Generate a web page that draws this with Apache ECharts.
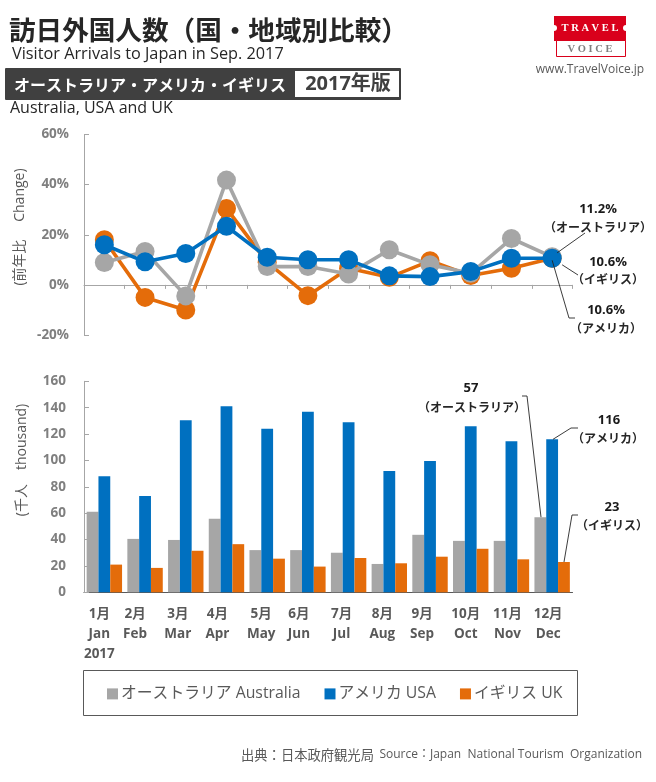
<!DOCTYPE html>
<html><head><meta charset="utf-8">
<script src="https://cdn.jsdelivr.net/npm/echarts@6/dist/echarts.min.js"></script>
<style>html,body{margin:0;padding:0;background:#fff}#c{width:656px;height:782px}</style>
</head><body><div id="c"></div>
<script>
const months = ['1月\nJan\n2017','2月\nFeb','3月\nMar','4月\nApr','5月\nMay','6月\nJun','7月\nJul','8月\nAug','9月\nSep','10月\nOct','11月\nNov','12月\nDec'];
const nameAU = 'オーストラリア Australia';
const nameUS = 'アメリカ USA';
const nameUK = 'イギリス UK';
const changeAU = [8.9,13.3,-4.4,41.8,7.3,7.3,4.3,14,8,4.6,18.5,11.2];
const changeUS = [16,9.2,12.5,23.4,11,10,10,3.6,3.3,5.3,10.6,10.6];
const changeUK = [18,-5,-10,30.5,9,-4.3,6.6,3,9.6,3.7,6.6,10.6];
const visitorsAU = [61,40.5,39.7,55.8,32,32,30,21.5,43.6,39,39,57];
const visitorsUS = [88,73,130.5,141,124,137,129,92,99.6,126,114.5,116];
const visitorsUK = [21,18.5,31.5,36.5,25.5,19.5,26,22,27,33,25,23];

const GRAY='#a6a6a6', BLUE='#0070c0', ORANGE='#e46c0a';
const LATIN="'Open Sans','Noto Sans CJK JP'";
const JP="'Noto Sans CJK JP'";
const tickNudge=[5,10,8,9,6,9,7,7,8,5,4,4];

const chart=echarts.init(document.getElementById('c'),null,{renderer:'canvas'});
const yLabel=(fmt,m)=>({fontFamily:LATIN,fontWeight:'bold',fontSize:13.5,color:'#7f7f7f',margin:m,formatter:fmt,padding:[4,0,0,0]});
const yCommon={axisLine:{show:true,lineStyle:{color:'#a6a6a6',width:1}},axisTick:{show:true,inside:true,length:5,lineStyle:{color:'#a6a6a6'}},splitLine:{show:false}};
const lineS=(name,data,color,z)=>({name,type:'line',xAxisIndex:0,yAxisIndex:0,data,z,symbol:'circle',symbolSize:19,
  lineStyle:{color,width:3.6},itemStyle:{color},animation:false});
const barS=(name,data,color)=>({name,type:'bar',xAxisIndex:1,yAxisIndex:1,data,itemStyle:{color},barGap:0,barCategoryGap:'13%',animation:false});

chart.setOption({
  animation:false,
  grid:[{left:84,top:134.5,width:488.5,height:200.5},{left:84,top:381.3,width:488.5,height:211}],
  legend:{data:[nameAU,nameUS,nameUK],left:107,top:686,itemWidth:11,itemHeight:11,itemGap:24,icon:'rect',
    padding:0,textStyle:{fontFamily:LATIN,fontSize:15.8,color:'#595959',padding:[0,0,0,-2]},selectedMode:false},
  xAxis:[
    {type:'category',gridIndex:0,data:months,axisLabel:{show:false},
      axisLine:{onZero:true,lineStyle:{color:'#a6a6a6',width:1}},axisTick:{show:true,length:4,alignWithLabel:false,lineStyle:{color:'#a6a6a6'}}},
    {type:'category',gridIndex:1,
      data:months.map((m,i)=>({value:m,textStyle:{padding:[0,2*tickNudge[i],0,0]}})),
      axisLine:{lineStyle:{color:'#595959',width:1.2}},axisTick:{show:false},
      axisLabel:{interval:0,margin:12,fontFamily:LATIN,fontWeight:'bold',fontSize:13.5,lineHeight:20,color:'#595959',verticalAlign:'top'}}
  ],
  yAxis:[
    Object.assign({type:'value',gridIndex:0,min:-20,max:60,interval:20,axisLabel:yLabel('{value}%',15)},yCommon),
    Object.assign({type:'value',gridIndex:1,min:0,max:160,interval:20,axisLabel:yLabel('{value}',18)},yCommon)
  ],
  series:[
    lineS(nameUK,changeUK,ORANGE,2),lineS(nameAU,changeAU,GRAY,3),lineS(nameUS,changeUS,BLUE,4),
    barS(nameAU,visitorsAU,GRAY),barS(nameUS,visitorsUS,BLUE),barS(nameUK,visitorsUK,ORANGE)
  ]
});

const last=11;
const pLine=(v)=>chart.convertToPixel({xAxisIndex:0,yAxisIndex:0},[last,v]);
const pBarY=(v)=>chart.convertToPixel({yAxisIndex:1},v);

const txt=(text,x,y,o)=>({type:'text',silent:true,x,y,rotation:(o&&o.rot)||0,z:100,style:Object.assign({text,fill:'#262626',font:`bold 12px ${JP}`,align:'center',verticalAlign:'middle'},o&&o.s)});
const note=(text,x,y)=>txt(text,x,y,{s:{font:`bold 13px ${LATIN}`,fill:'#1a1a1a'}});
const poly=(points,w)=>({type:'polyline',silent:true,z:100,shape:{points},style:{stroke:'#262626',lineWidth:w||0.9,fill:null}});

const aL=pLine(changeAU[last]), uL=pLine(changeUS[last]);
const yA=pBarY(visitorsAU[last]), yU=pBarY(visitorsUS[last]), yK=pBarY(visitorsUK[last]);

const graphic=[
  txt('訪日外国人数（国・地域別比較）',9,30,{s:{font:`bold 26.6px ${JP}`,align:'left',fill:'#262626'}}),
  txt('Visitor Arrivals to Japan in Sep. 2017',12,54,{s:{font:`16.3px 'Open Sans'`,align:'left',fill:'#262626'}}),
  {type:'rect',silent:true,shape:{x:5,y:68,width:396,height:32,r:1},style:{fill:'#404040'}},
  {type:'rect',silent:true,shape:{x:295,y:71,width:104,height:26},style:{fill:'#fff'}},
  txt('オーストラリア・アメリカ・イギリス',14,85,{s:{font:`bold 16px ${JP}`,align:'left',fill:'#fff'}}),
  txt('2017年版',348,84,{s:{font:`bold 20px ${LATIN}`,fill:'#404040'}}),
  txt('Australia, USA and UK',10,108,{s:{font:`16px 'Open Sans'`,align:'left',fill:'#262626'}}),

  {type:'rect',silent:true,shape:{x:554,y:16,width:72,height:25},style:{fill:'#d9001b'}},
  {type:'circle',silent:true,shape:{cx:554,cy:28,r:3},style:{fill:'#fff'}},
  {type:'circle',silent:true,shape:{cx:626,cy:28,r:3},style:{fill:'#fff'}},
  {type:'rect',silent:true,shape:{x:556.5,y:40.5,width:69,height:16},style:{fill:'#fff',stroke:'#d9001b',lineWidth:1}},
  txt('T R A V E L',590,28.5,{s:{font:"bold 10.5px 'Liberation Serif'",fill:'#fff'}}),
  txt('V O I C E',590,49,{s:{font:"bold 10.5px 'Liberation Serif'",fill:'#7f7f7f'}}),
  txt('www.TravelVoice.jp',590,70,{s:{font:"12px 'Open Sans'",fill:'#595959'}}),

  txt('(前年比　 Change)',20,227,{rot:Math.PI/2,s:{font:`14px ${LATIN}`,fill:'#595959'}}),
  txt('(千人　thousand)',22,460,{rot:Math.PI/2,s:{font:`14px ${LATIN}`,fill:'#595959'}}),

  note('11.2%',598,209), txt('（オーストラリア）',598,227),
  note('10.6%',608,262), txt('（イギリス）',608,279),
  note('10.6%',606,310), txt('（アメリカ）',606,328),
  poly([[aL[0]+5,aL[1]-4],[585,233]]),
  poly([[aL[0]+10,aL[1]+8],[578,275]]),
  poly([[uL[0],uL[1]+2],[569,318],[575,318]]),

  note('57',471,388), txt('（オーストラリア）',472,407),
  note('116',609,420), txt('（アメリカ）',608,438),
  note('23',612,507), txt('（イギリス）',612,525),
  poly([[541,yA],[527,396],[522,396]]),
  poly([[553,yU],[571,428],[578,428]]),
  poly([[564,yK],[572,515],[578,515]]),

  {type:'rect',silent:true,z:-1,shape:{x:83.5,y:670.5,width:494,height:45},style:{fill:'#fff',stroke:'#595959',lineWidth:1}},
  txt('出典：日本政府観光局',241,755,{s:{font:`13.3px ${JP}`,align:'left',fill:'#595959'}}),
  txt('Source：Japan  National Tourism  Organization',642,755,{s:{font:"12px 'Open Sans','Noto Sans CJK JP'",align:'right',fill:'#595959'}})
];
chart.setOption({graphic});
</script></body></html>
